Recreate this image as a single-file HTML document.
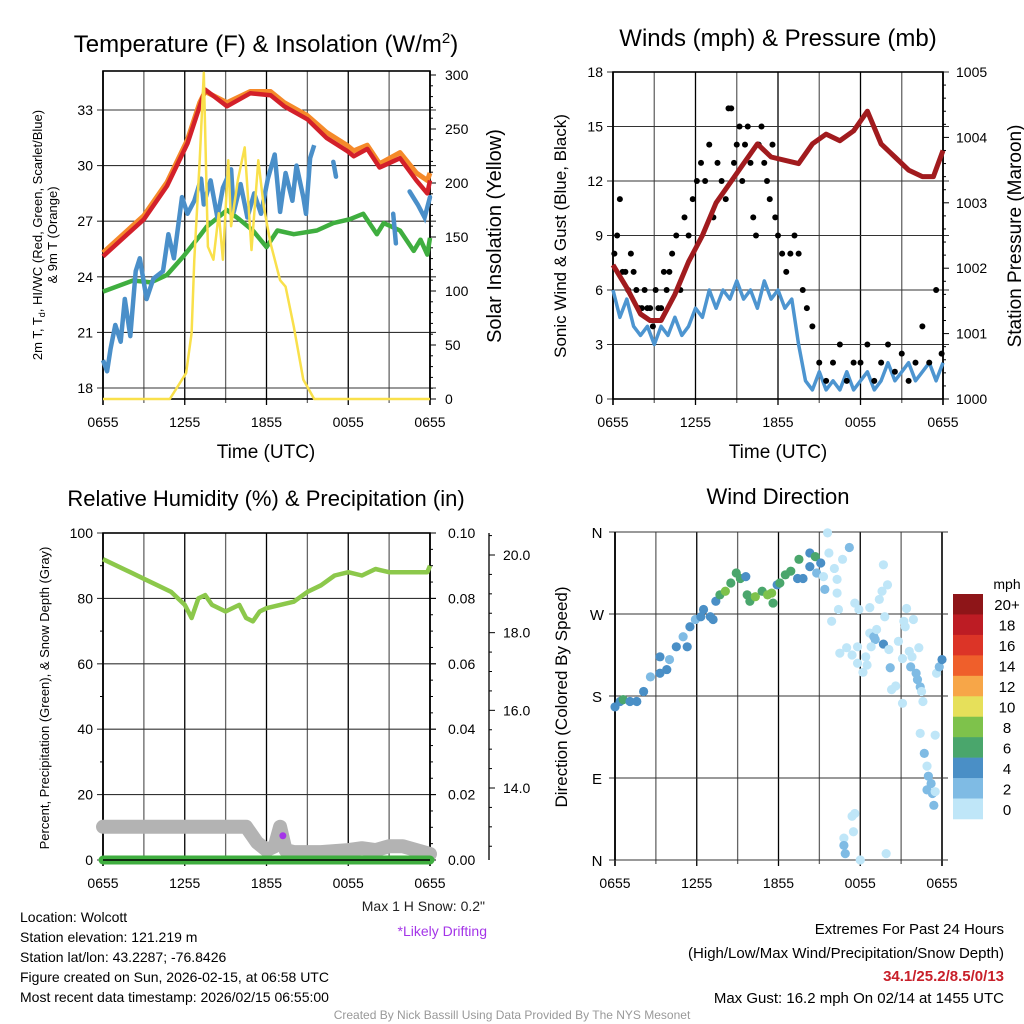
<!DOCTYPE html>
<html><head><meta charset="utf-8"><style>
body{margin:0;background:#fff}
svg{display:block;font-family:"Liberation Sans",Arial,sans-serif}
</style></head><body>
<svg id="s" width="1024" height="1024" viewBox="0 0 1024 1024"></svg>
<script>
// ---------- data ----------
const xTickLabels=["0655","1255","1855","0055","0655"];
const redH=[0,3,4.7,6.2,7.1,7.5,9.1,10.8,12.3,13.3,15,16.4,17.9,18.4,19.4,20.3,21.8,23,23.8,24];
const redT=[25.1,27.1,28.9,31.2,33.2,34.1,33.2,33.9,33.8,33.2,32.5,31.5,30.8,30.5,30.9,29.9,30.4,29.2,28.5,29.2];
const orangeT=[25.3,27.3,29.1,31.4,33.4,34.0,33.4,34.0,34.0,33.4,32.7,31.8,31.1,30.8,31.1,30.1,30.7,29.6,29.2,29.6];
const greenH=[0,2.2,3.5,4.7,5.9,7.1,7.6,9.1,10,11,12,12.8,14,15.7,16.9,18.1,19.1,20.1,20.6,21.8,22.8,23.3,23.8,24];
const greenT=[23.2,23.8,23.7,24.1,25.1,26.2,26.7,27.6,27.1,26.5,25.6,26.5,26.3,26.5,26.9,27.1,27.4,26.3,26.9,26.5,25.4,26,25.2,26.1];
const blueH=[0,0.3,0.55,0.9,1.3,1.6,2,2.4,2.7,3.2,3.7,4.4,4.8,5.2,5.8,6.2,6.7,7.2,7.4,7.9,8.4,8.8,9.4,9.6,10.1,10.6,11.1,11.6,12.1,12.6,13,13.4,13.9,14.2,14.7,14.9,15.2,15.5];
const blueT=[19.5,18.9,20.1,21.4,20.5,22.8,20.8,24.3,25,22.8,23.9,24.3,26.3,25,28.3,27.4,28.1,29.3,27.9,29.2,27.2,28.8,29.8,27.5,29,27.2,28.5,27.4,29.3,30.6,27.5,29.6,28.1,30,28.3,27.4,30.4,31.1];
const blueSegH=[[16.9,17.1],[21.3,21.5],[22.5,23.1,23.6,24]];
const blueSegT=[[30.2,29.4],[27.4,25.8],[28.6,27.9,27.2,28.3]];
const solarH=[0,4.9,5.6,6.1,6.5,6.7,7.1,7.4,7.7,8.1,8.5,8.8,9.2,9.4,9.9,10.4,10.9,11.4,11.8,12.3,13,13.4,14,14.7,15.5,16.2,24];
const solarV=[0,0,14,24,61,129,221,302,141,129,172,129,221,160,203,233,138,221,178,144,110,104,67,18,0,0,0];
const presH=[0,1,2,2.7,3.5,4.5,5.5,6.5,7.5,8.5,9.5,10.5,11.5,12.5,13.5,14.5,15.5,16.5,17.5,18.5,19.5,20.5,21.5,22.5,23.3,24];
const presV=[1002.05,1001.7,1001.3,1001.2,1001.2,1001.6,1002.1,1002.5,1003.0,1003.3,1003.6,1003.9,1003.7,1003.65,1003.6,1003.9,1004.05,1003.95,1004.1,1004.4,1003.9,1003.7,1003.5,1003.4,1003.4,1003.8];
const windH=[0,0.5,1,1.5,2,2.5,3,3.5,4,4.5,5,5.5,6,6.5,7,7.5,8,8.5,9,9.5,10,10.5,11,11.5,12,12.5,13,13.5,14,14.5,15,15.5,16,16.5,17,17.5,18,18.5,19,19.5,20,20.5,21,21.5,22,22.5,23,23.5,24];
const windV=[6,4.5,5.5,4,3.5,4,3,4,3.5,4.5,3.5,4,5,4.5,6,5,6,5.5,6.5,5.5,6,5,6.5,5.5,6,5,5.5,3,1,0.5,1.5,0.5,1,0.5,1.5,0.5,1,1.5,0.5,1,2,1,1.5,2,1,1.5,2,1,2];
const gustH=[0.1,0.3,0.5,0.7,0.9,1.1,1.3,1.5,1.7,1.9,2.1,2.3,2.5,2.7,2.9,3.1,3.3,3.5,3.7,3.9,4.1,4.3,4.6,4.9,5.2,5.5,5.8,6.1,6.4,6.7,7,7.3,7.6,7.9,8.2,8.4,8.6,8.8,9,9.2,9.4,9.6,9.8,10,10.2,10.4,10.6,10.8,11,11.2,11.4,11.6,11.8,12,12.3,12.6,12.9,13.2,13.5,13.8,14.1,14.5,15,15.5,16,16.5,17,17.5,18,18.5,19,19.5,20,20.5,21,21.5,22,22.5,23,23.5,23.9];
const gustV=[8,9,11,7,7,6,8,7,6,5,5,6,5,5,4,6,5,5,7,6,7,8,9,6,10,9,11,12,13,12,14,10,13,12,11,16,16,13,14,15,12,14,15,13,10,9,14,15,13,12,11,14,10,9,8,7,8,9,8,6,5,4,2,1,2,3,1,2,2,3,1,2,3,1.5,2.5,1,2,4,2,6,2.5];
const rhH=[0,1,2,3,4,5,6,6.5,7,7.5,8,9,10,10.5,11,11.5,12,13,14,15,16,17,18,19,20,21,22,23,23.8,24];
const rhV=[92,90,88,86,84,82,78,74,80,81,78,76,78,74,73,76,77,78,79,82,84,87,88,87,89,88,88,88,88,90];
const snowH=[0,10.5,11.3,12,12.6,13,13.4,14,16,18,19,20,21,22,23,24];
const snowV=[13,13,12.6,12.4,12.5,13,12.4,12.35,12.35,12.4,12.45,12.4,12.5,12.5,12.4,12.3];
const dirH=[0,0.37,0.6,1.1,1.6,2.1,2.6,3.3,3.3,3.8,4.0,4.5,5.0,5.3,5.5,5.9,6.3,6.5,7.0,7.2,7.4,7.7,8.1,8.5,8.9,9.2,9.6,9.7,9.9,10.3,10.8,11.2,11.6,11.5,11.9,12.1,12.5,12.9,13.4,13.5,13.8,14.3,14.3,14.7,14.8,15.1,15.3,15.4,15.7,15.6,16.1,16.3,16.3,16.4,15.9,16.7,16.5,17.0,17.4,17.2,17.6,17.9,17.8,17.8,18.2,18.4,18.5,18.7,18.7,19.0,19.1,19.2,18.8,19.4,19.6,19.7,19.8,19.7,20.0,20.1,20.2,20.3,20.6,20.8,21.1,21.1,21.2,21.3,21.4,21.6,21.7,21.8,21.9,22.1,22.2,22.3,22.4,22.5,22.6,22.4,22.7,22.9,23.0,23.2,22.9,23.3,23.4,23.5,23.5,23.6,23.8,24.0,16.8,16.8,16.9,17.4,17.6,17.5,18.0,19.9];
const dirV=[168,174,176,174,174,185,201,205,223,209,220,234,245,234,256,264,267,275,267,264,284,291,295,304,315,309,311,291,284,289,295,291,282,293,302,304,313,317,309,330,309,322,337,333,315,326,311,297,337,359,320,308,293,275,262,330,227,233,225,343,282,275,234,216,206,223,214,277,249,245,242,253,234,286,295,324,267,237,302,231,211,187,191,240,221,172,262,256,276,229,212,223,264,205,198,233,190,185,174,139,117,103,92,84,77,73,60,75,137,205,212,220,24,16,7,48,51,31,0,7];
const dirS=[5,5,7,5,5,5,3,5,5,5,3,5,3,5,5,3,5,5,5,5,5,7,9,7,7,7,5,7,7,9,7,9,7,9,5,7,7,7,5,7,5,5,5,7,3,5,1,3,1,1,1,1,1,1,1,1,1,1,1,3,1,1,1,1,1,1,1,1,1,3,3,1,1,1,1,1,1,5,1,1,3,1,1,1,1,1,1,1,1,1,3,1,1,3,3,1,3,1,1,1,3,1,3,3,3,3,3,1,1,1,3,5,1,3,3,1,1,1,1,1];
const cbLabels=["20+","18","16","14","12","10","8","6","4","2","0"];
const cbColors=["#8e1518","#bd1c24","#dc3427","#ef5f2b","#f7a648","#e6e05a","#7ec24b","#4aa66c","#4a8fc6","#7fbbe4","#bfe6f8"];

// ---------- helpers ----------
const S=document.getElementById('s');
const NS='http://www.w3.org/2000/svg';
function el(t,a,p){const e=document.createElementNS(NS,t);for(const k in a)e.setAttribute(k,a[k]);(p||S).appendChild(e);return e;}
function txt(x,y,s,o,p){const e=el('text',Object.assign({x:x,y:y},o),p);e.textContent=s;return e;}
function lin(d0,d1,r0,r1){return v=>r0+(v-d0)*(r1-r0)/(d1-d0);}
function pathOf(xs,ys,fx,fy){return xs.map((h,i)=>(i?'L':'M')+fx(h).toFixed(1)+','+fy(ys[i]).toFixed(1)).join('');}
function grid(g,P,hy){
  for(let h=0;h<=24;h+=3){const x=P.fx(h);
    const l=el('line',{x1:x,x2:x,y1:P.y0,y2:P.y1+(h%6==0?6:4),stroke:h%6==0?'#000':'#666','stroke-width':h==0||h==24?1.6:1.3},g);
    }
  hy.forEach(y=>{const l=el('line',{x1:P.x0-6,x2:P.x1+6,y1:y,y2:y,stroke:'#333','stroke-width':1.1},g);
    });
  xTickLabels.forEach((s,i)=>{const t=txt(P.fx(i*6),P.y1+28,s,{'font-size':14,'text-anchor':'middle'},g);
    });
}
function grp(name){const g=el('g',{});return g;}

// ---------- panel 1 ----------
(function(){
const g=grp('temperature-panel');
const P={x0:103,x1:430,y0:71,y1:399};P.fx=lin(0,24,P.x0,P.x1);
const fy=lin(18,33,388,110), fs=lin(0,300,399,75);
const tk=[18,21,24,27,30,33];
grid(g,P,tk.map(fy));
tk.forEach(v=>{const t=txt(P.x0-10,fy(v)+5,String(v),{'font-size':14,'text-anchor':'end'},g);});
for(let v=0;v<=300;v+=50){const t=txt(P.x1+15,fs(v)+5,String(v),{'font-size':14},g);}
for(let v=0;v<=300;v+=10){el('line',{x1:P.x1,x2:P.x1+(v%50?3:6),y1:fs(v),y2:fs(v),stroke:'#000'},g);}
el('rect',{x:P.x0,y:P.y0,width:P.x1-P.x0,height:P.y1-P.y0,fill:'none',stroke:'#000','stroke-width':1.6},g);
const l1=el('path',{d:pathOf(redH,orangeT,P.fx,fy),fill:'none',stroke:'#f58a2a','stroke-width':5,'stroke-linejoin':'round'},g);
const l2=el('path',{d:pathOf(redH,redT,P.fx,fy),fill:'none',stroke:'#d3202a','stroke-width':4.5,'stroke-linejoin':'round'},g);
const l3=el('path',{d:pathOf(greenH,greenT,P.fx,fy),fill:'none',stroke:'#3fae3f','stroke-width':4.5,'stroke-linejoin':'round'},g);
const l4=el('path',{d:pathOf(blueH,blueT,P.fx,fy),fill:'none',stroke:'#4a8fc9','stroke-width':4.5,'stroke-linejoin':'round'},g);
blueSegH.forEach((hs,i)=>{const p=el('path',{d:pathOf(hs,blueSegT[i],P.fx,fy),fill:'none',stroke:'#4a8fc9','stroke-width':4.5,'stroke-linecap':'round'},g);});
const l5=el('path',{d:pathOf(solarH,solarV,P.fx,fs),fill:'none',stroke:'#f9e04b','stroke-width':2.5,'stroke-linejoin':'round'},g);
const t=el('text',{x:266,y:52,'font-size':24,'text-anchor':'middle'},g);t.innerHTML='Temperature (F) &amp; Insolation (W/m<tspan dy="-9" font-size="15">2</tspan><tspan dy="9">)</tspan>';
const a=el('text',{x:0,y:0,'font-size':13,'text-anchor':'middle',transform:'translate(42,235) rotate(-90)'},g);a.innerHTML='2m T, T<tspan font-size="9" dy="3">d</tspan><tspan dy="-3">, HI/WC (Red, Green, Scarlet/Blue)</tspan>';
const a2=txt(0,0,'& 9m T (Orange)',{'font-size':13,'text-anchor':'middle',transform:'translate(57,235) rotate(-90)'},g);
const a3=txt(0,0,'Solar Insolation (Yellow)',{'font-size':20,'text-anchor':'middle',transform:'translate(501,236) rotate(-90)'},g);
const xt=txt(266,458,'Time (UTC)',{'font-size':19,'text-anchor':'middle'},g);
})();

// ---------- panel 2 ----------
(function(){
const g=grp('winds-panel');
const P={x0:613,x1:943,y0:72,y1:399};P.fx=lin(0,24,P.x0,P.x1);
const fy=lin(0,18,399,72), fp=lin(1000,1005,399,72);
const tk=[0,3,6,9,12,15,18];
grid(g,P,tk.map(fy));
tk.forEach(v=>{const t=txt(P.x0-10,fy(v)+5,String(v),{'font-size':14,'text-anchor':'end'},g);});
for(let v=1000;v<=1005;v++){const t=txt(P.x1+13,fp(v)+5,String(v),{'font-size':14},g);}
for(let v=1000;v<=1005;v+=0.2){el('line',{x1:P.x1,x2:P.x1+(Math.abs(v-Math.round(v))<0.01?6:3),y1:fp(v),y2:fp(v),stroke:'#000'},g);}
el('rect',{x:P.x0,y:P.y0,width:P.x1-P.x0,height:P.y1-P.y0,fill:'none',stroke:'#000','stroke-width':1.6},g);
const w=el('path',{d:pathOf(windH,windV,P.fx,fy),fill:'none',stroke:'#4d95d0','stroke-width':3.5,'stroke-linejoin':'round'},g);
gustH.forEach((h,i)=>{const c=el('circle',{cx:P.fx(h),cy:fy(gustV[i]),r:3,fill:'#000'},g);});
const p=el('path',{d:pathOf(presH,presV,P.fx,fp),fill:'none',stroke:'#a11b1e','stroke-width':5,'stroke-linejoin':'round'},g);
const t=txt(778,46,'Winds (mph) & Pressure (mb)',{'font-size':24,'text-anchor':'middle'},g);
const a=txt(0,0,'Sonic Wind & Gust (Blue, Black)',{'font-size':17,'text-anchor':'middle',transform:'translate(566,236) rotate(-90)'},g);
const a2=txt(0,0,'Station Pressure (Maroon)',{'font-size':19,'text-anchor':'middle',transform:'translate(1021,236) rotate(-90)'},g);
const xt=txt(778,458,'Time (UTC)',{'font-size':19,'text-anchor':'middle'},g);
})();

// ---------- panel 3 ----------
(function(){
const g=grp('humidity-panel');
const P={x0:103,x1:430,y0:533,y1:860};P.fx=lin(0,24,P.x0,P.x1);
const fy=lin(0,100,860,533), fr=lin(0,0.1,860,533), fsn=lin(14,20,788,555);
const tk=[0,20,40,60,80,100];
grid(g,P,tk.map(fy));
tk.forEach(v=>{const t=txt(P.x0-10,fy(v)+5,String(v),{'font-size':14,'text-anchor':'end'},g);});
for(let v=10;v<100;v+=20)el('line',{x1:P.x0-3,x2:P.x0,y1:fy(v),y2:fy(v),stroke:'#000'},g);
["0.00","0.02","0.04","0.06","0.08","0.10"].forEach((s,i)=>{const t=txt(P.x1+18,fr(i*0.02)+5,s,{'font-size':14},g);});
for(let i=0;i<=20;i++)el('line',{x1:P.x1,x2:P.x1+(i%4?3:6),y1:fr(i*0.005),y2:fr(i*0.005),stroke:'#000'},g);
el('line',{x1:489,x2:489,y1:533,y2:860,stroke:'#000','stroke-width':1.3},g);
for(let v=12;v<=20.6;v+=0.5){const y=fsn(v);if(y<533||y>860)continue;el('line',{x1:489,x2:489+(v%2==0?6:3),y1:y,y2:y,stroke:'#000'},g);}
["14.0","16.0","18.0","20.0"].forEach((s,i)=>{const t=txt(503,fsn(14+2*i)+5,s,{'font-size':14},g);});
el('rect',{x:P.x0,y:P.y0,width:P.x1-P.x0,height:P.y1-P.y0,fill:'none',stroke:'#000','stroke-width':1.6},g);
const sn=el('path',{d:pathOf(snowH,snowV,P.fx,fsn),fill:'none',stroke:'#b3b3b3','stroke-width':14,'stroke-linejoin':'round','stroke-linecap':'round'},g);
const pr=el('line',{x1:P.x0,x2:P.x1,y1:fr(0),y2:fr(0),stroke:'#3fae3f','stroke-width':9,'stroke-linecap':'round'},g);
el('line',{x1:P.x0,x2:P.x1,y1:860,y2:860,stroke:'#000','stroke-width':1.5},g);
const rh=el('path',{d:pathOf(rhH,rhV,P.fx,fy),fill:'none',stroke:'#8cc84b','stroke-width':4.5,'stroke-linejoin':'round'},g);
const dm=el('circle',{cx:P.fx(13.2),cy:fsn(12.77),r:3.5,fill:'#a435e8'},g);
const t=txt(266,506,'Relative Humidity (%) & Precipitation (in)',{'font-size':22,'text-anchor':'middle'},g);
const a=txt(0,0,'Percent, Precipitation (Green), & Snow Depth (Gray)',{'font-size':13,'text-anchor':'middle',transform:'translate(49,698) rotate(-90)'},g);
})();

// ---------- panel 4 ----------
(function(){
const g=grp('wind-direction-panel');
const P={x0:615,x1:942,y0:532,y1:860};P.fx=lin(0,24,P.x0,P.x1);
const fy=lin(0,360,860,532);
const lab=["N","E","S","W","N"];
grid(g,P,[0,90,180,270,360].map(fy));
lab.forEach((s,i)=>{const t=txt(597,fy(i*90)+6,s,{'font-size':15,'text-anchor':'middle'},g);});
el('line',{x1:P.x0,x2:P.x0,y1:P.y0,y2:P.y1,stroke:'#000','stroke-width':1.6},g);
dirH.forEach((h,i)=>{const b=Math.min(10,Math.floor(dirS[i]/2));
  const c=el('circle',{cx:P.fx(h),cy:fy(dirV[i]),r:4.6,fill:cbColors[10-b]},g);
  
  });
const bh=(819-594)/11;
cbColors.forEach((c,i)=>{const r=el('rect',{x:953,y:594+i*bh,width:30,height:bh+0.3,fill:c},g);
  const t=txt(1007,594+i*bh+bh/2+6,cbLabels[i],{'font-size':15,'text-anchor':'middle'},g);});
const m=txt(1007,589,'mph',{'font-size':14,'text-anchor':'middle'},g);
const t=txt(778,504,'Wind Direction',{'font-size':22,'text-anchor':'middle'},g);
const a=txt(0,0,'Direction (Colored By Speed)',{'font-size':17,'text-anchor':'middle',transform:'translate(567,697) rotate(-90)'},g);
})();

// ---------- footer text ----------
(function(){
const g=grp('info-text');
const L=["Location: Wolcott","Station elevation: 121.219 m","Station lat/lon: 43.2287; -76.8426","Figure created on Sun, 2026-02-15, at 06:58 UTC","Most recent data timestamp: 2026/02/15 06:55:00"];
L.forEach((s,i)=>{const t=txt(20,922+i*20,s,{'font-size':14},g);});
const a=txt(485,911,'Max 1 H Snow: 0.2"',{'font-size':14,'text-anchor':'end',fill:'#222'},g);
const b=txt(487,936,'*Likely Drifting',{'font-size':14,'text-anchor':'end',fill:'#a435e8'},g);
const c=txt(1004,934,'Extremes For Past 24 Hours',{'font-size':15,'text-anchor':'end'},g);
const d=txt(1004,958,'(High/Low/Max Wind/Precipitation/Snow Depth)',{'font-size':15,'text-anchor':'end'},g);
const e=txt(1004,981,'34.1/25.2/8.5/0/13',{'font-size':15,'text-anchor':'end',fill:'#c8202a','font-weight':'bold'},g);
const f=txt(1004,1003,'Max Gust: 16.2 mph On 02/14 at 1455 UTC',{'font-size':15,'text-anchor':'end'},g);
const h=txt(512,1019,'Created By Nick Bassill Using Data Provided By The NYS Mesonet',{'font-size':12,'text-anchor':'middle',fill:'#999'},g);
})();
</script>
</body></html>
